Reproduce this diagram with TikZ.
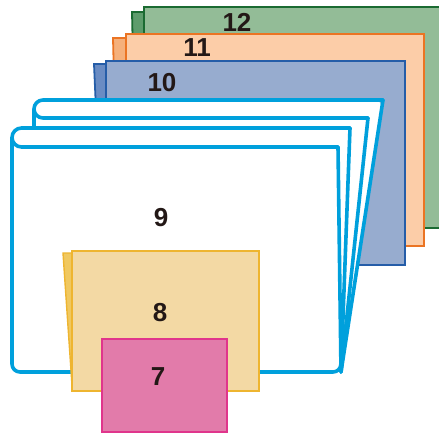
\documentclass[tikz,border=0pt]{standalone}
\usepackage{fontspec}
\setmainfont{Liberation Sans}
\definecolor{ink}{HTML}{231816}
\definecolor{greenfill}{HTML}{93BC97}
\definecolor{greenback}{HTML}{5E9C6C}
\definecolor{greenline}{HTML}{1B6B32}
\definecolor{orangefill}{HTML}{FCCDA8}
\definecolor{orangeback}{HTML}{F5B07B}
\definecolor{orangeline}{HTML}{EB7423}
\definecolor{bluefill}{HTML}{97ACCF}
\definecolor{blueback}{HTML}{6A8CC3}
\definecolor{blueline}{HTML}{255DA8}
\definecolor{cyanline}{HTML}{00A0DC}
\definecolor{yellowfill}{HTML}{F3D9A4}
\definecolor{yellowback}{HTML}{F0C860}
\definecolor{yellowline}{HTML}{EEB530}
\definecolor{pinkfill}{HTML}{E27BAA}
\definecolor{pinkline}{HTML}{E0358C}

\begin{document}
\begin{tikzpicture}[
    x=1pt, y=-1pt,
    sheet/.style={line width=1.8pt, line join=miter},
    paper/.style={cyanline, line width=3.6pt, line join=round, line cap=round},
    num/.style={ink, font=\fontsize{26}{26}\selectfont\bfseries, inner sep=0pt},
]
\useasboundingbox (0,0) rectangle (439,437);

% =============================================
% BACK SHEETS – 12, 11, 10 (each with a tab behind)
% =============================================
\begin{scope}[sheet]
  % Sheet 12
  \filldraw[fill=greenback, draw=greenline] (132,12) -- (300,12) -- (300,60) -- (133,60) -- cycle;
  \filldraw[fill=greenfill, draw=greenline] (144,7) rectangle (442,228);
  % Sheet 11
  \filldraw[fill=orangeback, draw=orangeline] (113,38) -- (300,38) -- (300,80) -- (114,80) -- cycle;
  \filldraw[fill=orangefill, draw=orangeline] (126,34) rectangle (424,246);
  % Sheet 10
  \filldraw[fill=blueback, draw=blueline] (94,64) -- (300,64) -- (300,110) -- (96,110) -- cycle;
  \filldraw[fill=bluefill, draw=blueline] (106,61) rectangle (405,265);
\end{scope}

\node[num] (n12) at (237,22) {12};
\node[num] (n11) at (197,48) {11};
\node[num] (n10) at (162,83) {10};

% =============================================
% BOOK OF PAGES – 9
% =============================================
\begin{scope}[paper]
  % Back pair of pages
  \fill[white, rounded corners=9] (34,100) -- (383,100) -- (341,372) -- (34,372) -- cycle;
  \draw[rounded corners=9] (383,100) -- (34,100) -- (34,118) -- (368,118);
  \draw (34,110) -- (34,128);
  \draw (383,100) -- (341,372);
  \draw (368,118) -- (341,372);

  % Front pair of pages
  \fill[white, rounded corners=9] (12,128) -- (350,128) -- (341,372) -- (12,372) -- cycle;
  \draw[rounded corners=9.5] (350,128) -- (12,128) -- (12,147) -- (338,147);
  \draw (350,128) -- (341,372);
  \draw[rounded corners=8] (12,138) -- (12,372) -- (341,372) -- (338,147);
\end{scope}

\node[num] (n9) at (161,218) {9};

% =============================================
% FRONT SHEETS – 8 and 7
% =============================================
\begin{scope}[line width=1.4pt]
  % Sheet 8 with a tilted one behind
  \filldraw[fill=yellowback, draw=yellowline] (63,253) -- (200,253) -- (200,385) -- (72,385) -- cycle;
  \filldraw[fill=yellowfill, draw=yellowline] (72,251) rectangle (259,391);
  % Sheet 7
  \filldraw[fill=pinkfill, draw=pinkline] (102,339) rectangle (227,432);
\end{scope}

\node[num] (n8) at (160,313) {8};
\node[num] (n7) at (158,377) {7};

\end{tikzpicture}
\end{document}
